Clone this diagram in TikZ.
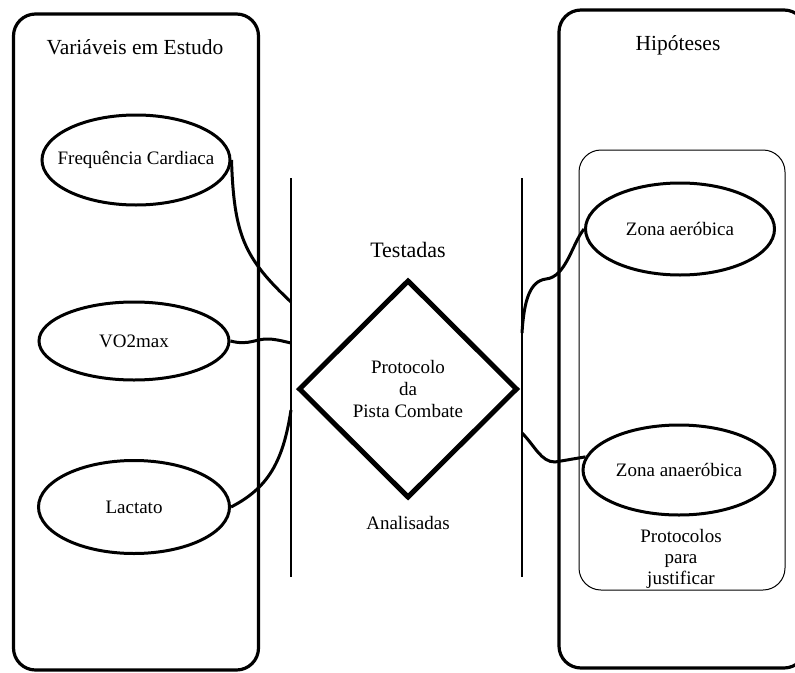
\documentclass[tikz,border=0pt]{standalone}
\usepackage{fontspec}
\setmainfont{Liberation Serif}
\usetikzlibrary{shapes.geometric}
\begin{document}
\begin{tikzpicture}[x=1pt,y=-1pt,
  bigbox/.style={draw,line width=3.2pt,rounded corners=22pt,inner sep=0pt},
  innerbox/.style={draw,line width=1pt,rounded corners=22pt,inner sep=0pt},
  oval/.style={draw,ellipse,line width=3pt,inner sep=0pt},
  conn/.style={line width=3pt},
  thin/.style={line width=1.2pt},
  lbl/.style={font=\fontsize{19}{22}\selectfont,align=center,inner sep=0pt},
  title/.style={font=\fontsize{21.5}{25}\selectfont,inner sep=0pt}]
\useasboundingbox (0,0) rectangle (795,672);
\begin{scope}
\clip (0,0) rectangle (795,672);
% big boxes
\node[bigbox,minimum width=245pt,minimum height=656pt] (lbox) at (136,342) {};
\node[bigbox,minimum width=247pt,minimum height=658pt] (rbox) at (682.5,339) {};
\end{scope}
\node[innerbox,minimum width=206pt,minimum height=440pt] (ibox) at (682,370) {};
% titles
\node[title] (t1) at (135,47) {Variáveis em Estudo};
\node[title] (t2) at (678,45) {Hipóteses};
% ellipses
\node[oval,minimum width=188pt,minimum height=90pt] (fc) at (136,160) {};
\node[oval,minimum width=190pt,minimum height=78pt] (vo) at (134,341) {};
\node[oval,minimum width=191pt,minimum height=93pt] (la) at (134,507) {};
\node[oval,minimum width=189pt,minimum height=92pt] (za) at (680,229) {};
\node[oval,minimum width=192pt,minimum height=90pt] (zn) at (679,470) {};
\node[lbl] (fct) at (fc.center) {Frequência Cardiaca};
\node[lbl] (vot) at (vo.center) {VO2max};
\node[lbl] (lat) at (la.center) {Lactato};
\node[lbl] (zat) at (za.center) {Zona aeróbica};
\node[lbl] (znt) at (zn.center) {Zona anaeróbica};
% thin vertical lines
\coordinate (lt) at (291,178); \coordinate (lb) at (291,577);
\coordinate (rt) at (522,178); \coordinate (rb) at (522,577);
\draw[thin] (lt) -- (lb);
\draw[thin] (rt) -- (rb);
% diamond
\node[draw,diamond,line width=5pt,minimum width=219pt,minimum height=218pt,lbl] (dm) at (408,389) {Protocolo\\da\\Pista Combate};
\node[font=\fontsize{22}{25}\selectfont,inner sep=0pt] (te) at (408,250) {Testadas};
\node[lbl] (an) at (408,523) {Analisadas};
\node[lbl,font=\fontsize{19}{21}\selectfont] (pj) at (681,559) {Protocolos\\para\\justificar};
% connector end points on the thin lines
\coordinate (c1) at (291,302);
\coordinate (c2) at (291,343);
\coordinate (c3) at (291,410);
\coordinate (c4) at (522,333);
\coordinate (c5) at (522,433);
\coordinate (m4) at (546,279);
\coordinate (m5) at (555,462);
% connectors
\draw[conn] (fc.east) .. controls (234,235) and (244,258) .. (c1);
\draw[conn] (vo.east) .. controls (250,346) and (256,338) .. (270,339) .. controls (280,340) and (286,342) .. (c2);
\draw[conn] (la.east) .. controls (268,488) and (283,462) .. (c3);
\draw[conn] (c4) .. controls (524,300) and (530,281) .. (m4) .. controls (566,277) and (572,244) .. (za.west);
\draw[conn] (c5) .. controls (535,446) and (541,462) .. (m5) -- (zn.172);
\end{tikzpicture}
\end{document}
